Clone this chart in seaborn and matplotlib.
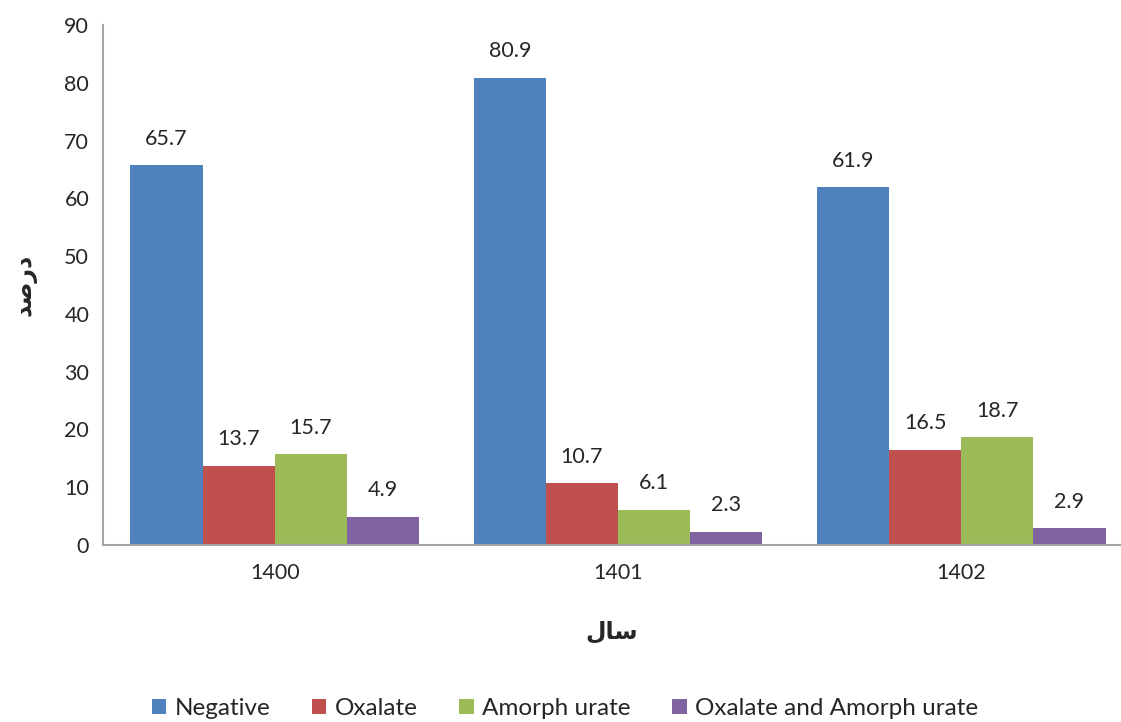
import pandas as pd
import matplotlib
matplotlib.use("Agg")
import matplotlib.pyplot as plt
import seaborn as sns

# داده‌ها
years = ["1400", "1401", "1402"]
categories = ["Negative", "Oxalate", "Amorph urate", "Oxalate and Amorph urate"]
negative = [65.7, 80.9, 61.9]
oxalate = [13.7, 10.7, 16.5]
amorph = [15.7, 6.1, 18.7]
both = [4.9, 2.3, 2.9]
colors = ["#4F81BD", "#C0504D", "#9BBB59", "#8064A2"]

rows = []
for cat, vals in zip(categories, [negative, oxalate, amorph, both]):
    for y, v in zip(years, vals):
        rows.append({"year": y, "cat": cat, "value": v})
df = pd.DataFrame(rows)

sns.set_style("white")
plt.rcParams['font.family'] = ['Lato', 'DejaVu Sans']

fig = plt.figure(figsize=(11.21, 7.22), dpi=100)
ax = fig.add_axes([0.0919, 0.2452, 0.9081, 0.7202])
sns.barplot(data=df, x="year", y="value", hue="cat", hue_order=categories,
            palette=colors, width=0.84, saturation=1, linewidth=0, ax=ax, legend=True)

# برچسب مقادیر
for cont in ax.containers:
    for bar in cont:
        h = bar.get_height()
        ax.annotate(f"{h:.1f}", (bar.get_x() + bar.get_width() / 2, h),
                    xytext=(0, 19), textcoords="offset points",
                    ha="center", va="center", fontsize=15.5)

ax.set_ylim(0, 90)
ax.set_yticks(range(0, 91, 10))
ax.set_xlim(-0.5, 2.465)
ax.tick_params(axis="both", length=0, labelsize=15.5, pad=10)
ax.tick_params(axis="x", pad=13)
for s in ["top", "right"]:
    ax.spines[s].set_visible(False)
for s in ["left", "bottom"]:
    ax.spines[s].set_color("#A6A6A6")
    ax.spines[s].set_linewidth(1.5)

# سال / درصد (presentation forms so the letters join)
ax.set_xlabel("ﻝﺎﺳ", fontsize=17, fontweight="bold", family=["DejaVu Sans"], labelpad=26)
ax.set_ylabel("ﺪﺻﺭﺩ", fontsize=17, fontweight="bold", family=["DejaVu Sans"], labelpad=20)

handles, labels = ax.get_legend_handles_labels()
ax.get_legend().remove()
fig.legend(handles, labels, loc="lower center", bbox_to_anchor=(0.504, -0.026), ncol=4,
           frameon=False, fontsize=17.5, handlelength=0.6, handleheight=0.6,
           handletextpad=0.35, columnspacing=1.7)

fig.savefig("out.png", dpi=100)
